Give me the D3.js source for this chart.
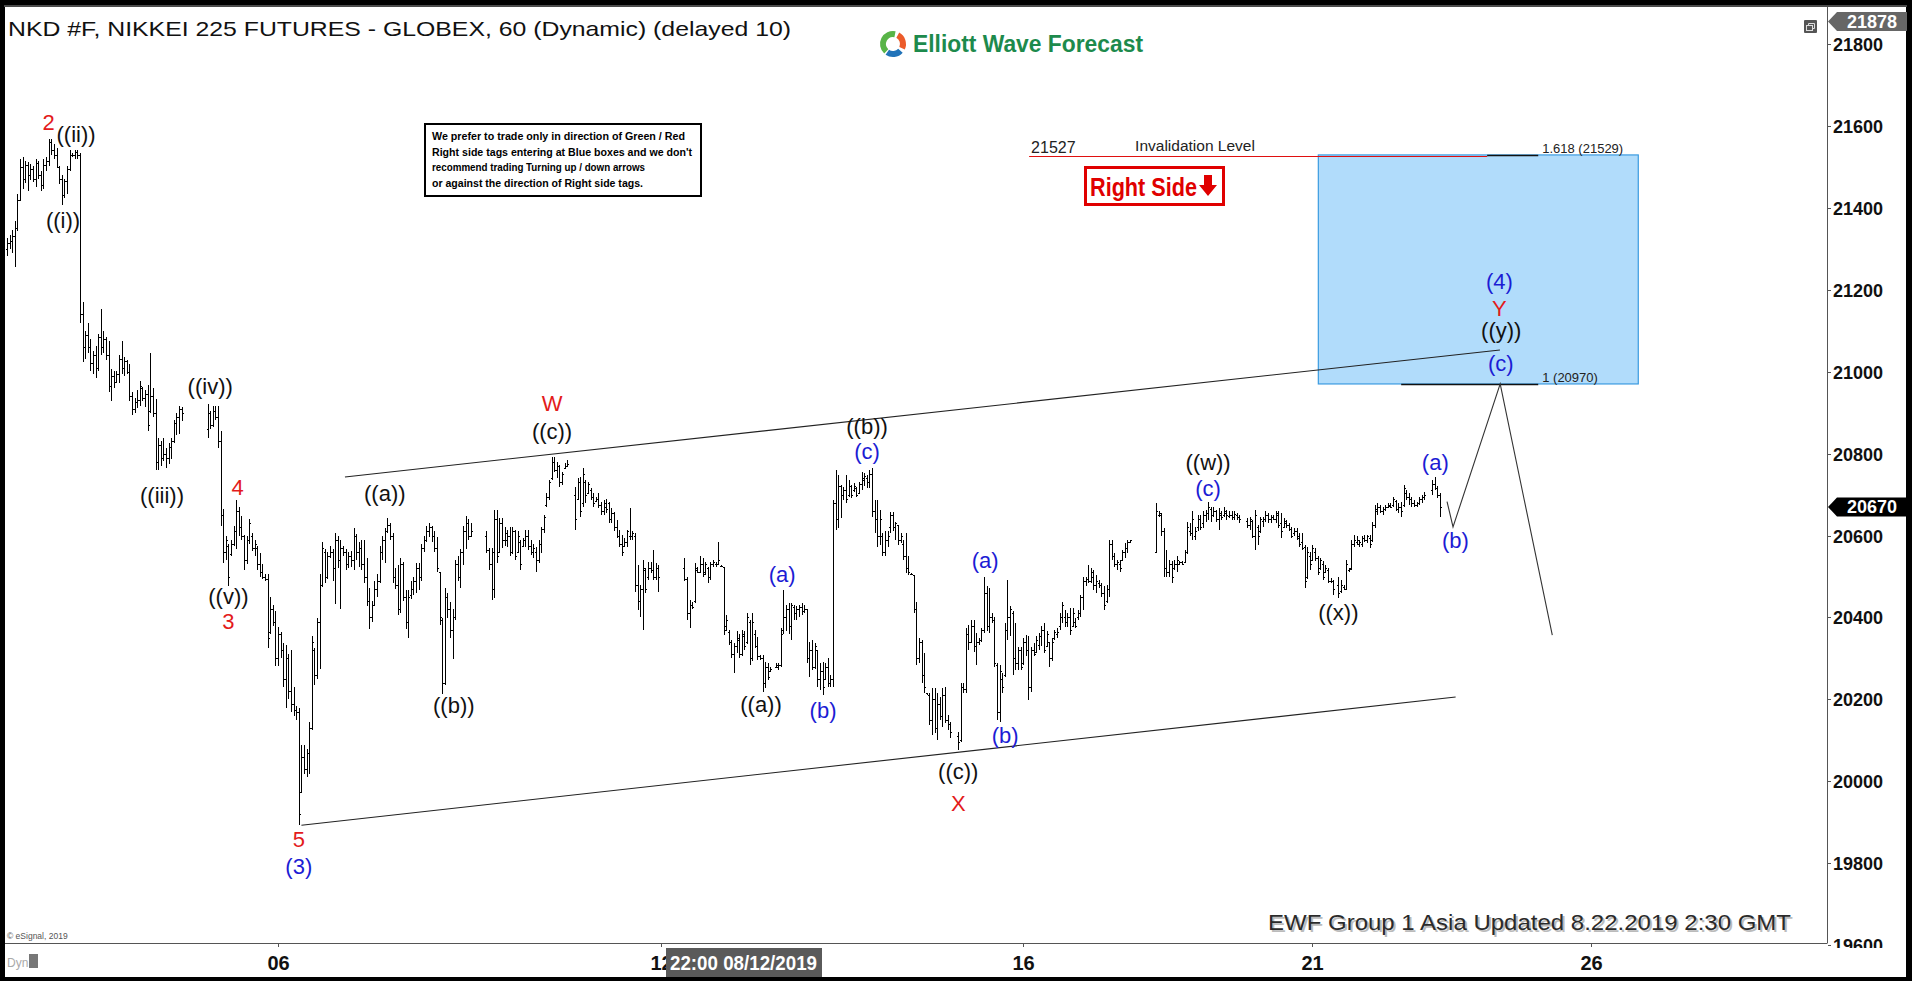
<!DOCTYPE html>
<html><head><meta charset="utf-8">
<script src="https://cdn.jsdelivr.net/npm/d3@7"></script>
<style>
html,body{margin:0;padding:0;background:#000;overflow:hidden}
svg{display:block}
text{font-family:"Liberation Sans",Arial,sans-serif}
</style></head><body><svg id="c" width="1912" height="981"></svg>
<script>
// ---------- DATA ----------
// hourly OHLC bars [open, high, low, close]; null = no bar drawn
const bars = [
[21300,21327,21282,21315],[21315,21333,21300,21320],[21320,21345,21290,21330],[21330,21367,21256,21350],
[21350,21434,21344,21420],[21420,21518,21417,21500],[21500,21524,21445,21470],[21470,21515,21460,21505],
[21505,21513,21440,21480],[21480,21507,21468,21495],[21495,21502,21462,21470],[21470,21518,21451,21510],
[21510,21515,21470,21480],[21480,21490,21440,21455],[21455,21518,21445,21505],[21505,21524,21490,21515],
[21515,21569,21502,21560],[21560,21569,21530,21540],[21540,21555,21520,21530],[21530,21547,21496,21500],
[21500,21502,21457,21470],[21470,21479,21406,21430],[21430,21470,21425,21465],[21465,21502,21434,21495],
[21495,21541,21490,21530],[21530,21535,21524,21530],[21530,21541,21518,21535],[21535,21540,21520,21530],
[21530,21535,21119,21140],[21140,21170,21024,21060],[21060,21100,21030,21090],[21090,21119,21046,21060],
[21060,21080,21001,21020],[21020,21050,20995,21040],[21040,21063,20984,21010],[21010,21091,21001,21085],
[21085,21153,21040,21060],[21060,21100,21045,21080],[21080,21085,21029,21040],[21040,21074,20950,20965],
[20965,21007,20928,20990],[20990,21001,20960,20975],[20975,21001,20973,20995],[20995,21040,20973,21030],
[21030,21074,20995,21010],[21010,21035,20990,21025],[21025,21029,20995,21000],[21000,21018,20928,20940],
[20940,20950,20894,20910],[20910,20935,20900,20925],[20925,20956,20911,20930],[20930,20978,20917,20965],
[20960,20962,20928,20935],[20935,20955,20915,20945],[20945,20967,20855,20870],[20905,21046,20900,20940],
[20940,20960,20890,20900],[20900,20934,20759,20780],[20780,20838,20759,20820],[20820,20830,20770,20790],
[20790,20838,20782,20800],[20800,20815,20765,20790],[20790,20825,20775,20815],[20815,20838,20787,20830],
[20830,20883,20827,20875],[20875,20900,20845,20890],[20890,20917,20849,20910],[20910,20915,20880,20900],
null,null,null,null,null,null,null,null,null,
[20860,20922,20838,20900],[20900,20905,20860,20870],[20870,20917,20865,20905],[20905,20917,20883,20890],
[20890,20917,20815,20830],[20830,20855,20624,20650],[20650,20664,20534,20560],[20560,20600,20540,20590],
[20575,20579,20478,20500],[20555,20590,20551,20580],[20580,20624,20574,20610],[20610,20686,20568,20660],
[20660,20670,20600,20620],[20620,20647,20590,20600],[20600,20602,20517,20540],[20540,20600,20530,20590],
[20590,20641,20579,20630],[20600,20607,20562,20570],[20570,20590,20550,20580],[20570,20574,20517,20530],
[20530,20557,20500,20510],[20510,20530,20495,20500],[20500,20506,20489,20495],[20495,20506,20326,20350],
[20365,20450,20360,20420],[20420,20430,20380,20390],[20390,20416,20281,20300],[20300,20377,20281,20360],
[20360,20365,20300,20320],[20320,20337,20231,20250],[20250,20332,20180,20300],[20300,20310,20200,20220],
[20220,20320,20169,20190],[20190,20230,20160,20175],[20175,20185,20150,20170],[20170,20180,19893,19920],
[19975,20090,19972,20060],[20060,20090,20017,20030],[20030,20080,20010,20070],[20070,20146,20017,20130],
[20130,20354,20125,20340],[20320,20326,20236,20260],[20260,20400,20250,20390],[20390,20506,20275,20480],
[20480,20585,20475,20570],[20560,20568,20484,20500],[20500,20560,20495,20550],[20550,20574,20545,20560],
[20560,20568,20489,20520],[20520,20607,20433,20590],[20590,20600,20520,20540],[20540,20590,20422,20570],
[20570,20574,20551,20560],[20560,20568,20517,20530],[20530,20560,20520,20550],[20550,20562,20523,20540],
[20540,20619,20517,20600],[20600,20605,20540,20560],[20560,20585,20523,20570],[20570,20590,20517,20530],
[20530,20590,20484,20500],[20500,20545,20427,20440],[20440,20472,20371,20400],[20400,20440,20390,20430],
[20430,20489,20427,20470],[20470,20506,20450,20490],[20490,20574,20485,20560],[20560,20600,20540,20590],
[20590,20619,20534,20610],[20610,20644,20607,20625],[20625,20630,20590,20600],[20600,20607,20484,20500],
[20500,20520,20470,20480],[20480,20529,20405,20420],[20420,20545,20410,20530],[20530,20535,20440,20450],
[20450,20467,20371,20390],[20390,20467,20349,20450],[20455,20489,20445,20470],[20470,20500,20455,20490],
[20490,20534,20461,20520],[20520,20534,20467,20500],[20500,20579,20489,20570],[20570,20600,20560,20590],
[20590,20624,20585,20610],[20610,20630,20596,20620],[20620,20624,20585,20600],[20600,20610,20560,20570],
[20570,20596,20512,20520],[20510,20512,20382,20400],[20395,20399,20214,20240],[20240,20472,20235,20450],
[20450,20460,20400,20420],[20420,20438,20349,20370],[20370,20422,20298,20400],[20400,20540,20395,20530],
[20530,20550,20490,20500],[20500,20568,20472,20560],[20560,20624,20529,20610],[20610,20647,20568,20630],
[20630,20640,20590,20600],[20600,20630,20596,20610],
null,null,null,null,null,
[20600,20610,20557,20565],[20565,20569,20516,20530],[20530,20569,20443,20560],[20470,20662,20447,20640],
[20640,20662,20532,20550],[20560,20642,20557,20630],[20630,20642,20569,20590],[20590,20620,20575,20605],
[20590,20614,20573,20600],
[20600,20622,20549,20560],[20560,20622,20555,20610],[20610,20614,20540,20550],[20560,20610,20557,20600],
[20585,20589,20516,20530],[20575,20593,20573,20590],[20590,20614,20573,20600],[20600,20614,20565,20575],
[20575,20589,20553,20560],[20560,20580,20545,20570],[20560,20573,20512,20540],[20540,20589,20532,20580],[20580,20622,20557,20615],
[20615,20650,20606,20645],[20675,20703,20671,20695],[20695,20736,20687,20730],[20740,20793,20736,20780],
[20780,20793,20756,20760],[20760,20780,20740,20770],[20770,20772,20719,20730],[20730,20756,20724,20750],
[20765,20776,20764,20770],[20770,20785,20768,20775],
null,null,
[20700,20719,20614,20640],[20690,20740,20687,20730],[20730,20744,20646,20660],[20680,20764,20671,20750],
[20730,20736,20679,20700],[20705,20732,20703,20725],[20710,20715,20687,20695],[20695,20703,20671,20680],
[20685,20695,20683,20690],[20690,20703,20667,20675],[20675,20683,20650,20660],[20660,20687,20650,20680],
[20670,20690,20655,20665],
[20680,20683,20630,20640],[20640,20667,20630,20655],[20655,20658,20610,20620],[20620,20638,20593,20600],
[20600,20614,20573,20580],[20580,20601,20549,20560],[20575,20593,20573,20585],[20585,20614,20573,20610],
[20600,20667,20589,20600],[20600,20610,20589,20605],[20600,20606,20463,20480],[20480,20528,20418,20440],
[20440,20479,20402,20470],[20470,20540,20370,20520],[20515,20520,20459,20470],[20500,20536,20492,20520],
[20520,20536,20508,20515],[20515,20565,20492,20500],[20500,20532,20492,20520],[20520,20528,20463,20500],
null,null,null,null,null,null,null,null,null,
[20520,20545,20488,20495],[20495,20500,20394,20410],[20410,20443,20374,20430],[20430,20439,20422,20425],
[20440,20532,20435,20520],[20515,20524,20508,20510],[20510,20549,20508,20530],[20530,20545,20500,20505],
[20510,20536,20505,20530],[20520,20524,20484,20500],[20500,20536,20492,20530],[20530,20540,20524,20535],
[20530,20536,20524,20530],[20530,20585,20528,20540],[20525,20528,20524,20526],[20524,20524,20357,20370],
[20380,20406,20366,20395],[20365,20370,20333,20340],[20340,20345,20300,20310],[20310,20337,20264,20330],
[20330,20366,20313,20350],[20345,20361,20300,20310],[20310,20370,20305,20360],[20355,20366,20321,20330],
[20340,20410,20335,20400],[20390,20394,20284,20300],[20300,20410,20295,20390],[20360,20370,20325,20330],
[20330,20353,20296,20305],[20305,20309,20296,20300],[20300,20309,20219,20240],[20240,20292,20227,20280],
[20280,20288,20247,20255],[20270,20280,20268,20275],
null,
[20280,20288,20276,20285],[20280,20288,20272,20285],[20285,20374,20280,20360],[20370,20467,20361,20400],
[20400,20431,20366,20420],[20420,20435,20361,20380],[20380,20435,20345,20430],[20425,20431,20394,20410],
[20410,20427,20394,20420],[20420,20431,20402,20425],[20425,20435,20406,20415],[20415,20431,20410,20420],
[20420,20422,20288,20300],[20300,20341,20256,20320],[20320,20345,20272,20280],[20280,20337,20275,20330],
[20320,20321,20231,20250],[20250,20288,20223,20270],[20270,20292,20211,20230],[20250,20288,20247,20280],
[20280,20300,20231,20240],[20240,20260,20231,20250],[20250,20687,20231,20680],[20680,20760,20614,20640],
[20640,20748,20618,20720],[20720,20723,20642,20700],[20700,20719,20687,20710],[20710,20748,20679,20690],
[20700,20736,20695,20720],[20720,20723,20691,20700],[20710,20728,20707,20720],[20715,20719,20695,20700],
[20705,20732,20703,20725],[20725,20756,20711,20740],[20735,20752,20720,20745],[20740,20748,20715,20730],[20730,20760,20715,20750],
[20750,20764,20646,20660],[20660,20687,20606,20640],[20640,20687,20573,20600],[20600,20662,20577,20640],
[20600,20606,20549,20560],[20560,20610,20549,20590],[20590,20610,20573,20600],[20620,20658,20606,20650],
[20650,20658,20610,20620],[20620,20634,20589,20630],[20625,20626,20577,20590],[20590,20606,20581,20600],
[20580,20589,20540,20550],[20550,20606,20508,20520],[20520,20549,20504,20510],[20505,20508,20504,20506],
[20504,20504,20410,20420],[20420,20439,20284,20300],[20300,20349,20288,20340],[20340,20345,20239,20260],
[20260,20313,20215,20230],[20215,20215,20211,20212],[20212,20215,20138,20150],[20150,20227,20113,20200],
[20200,20227,20117,20130],[20130,20215,20101,20190],[20190,20207,20150,20160],[20160,20227,20134,20210],
[20210,20231,20142,20150],[20150,20162,20126,20140],[20140,20146,20105,20120],
null,null,
[20110,20121,20077,20095],[20100,20239,20095,20230],[20230,20239,20215,20225],
[20225,20374,20215,20360],[20360,20382,20321,20340],[20340,20394,20337,20380],[20380,20394,20317,20330],
[20330,20362,20284,20340],[20340,20349,20333,20345],[20345,20374,20341,20370],[20370,20500,20362,20460],
[20460,20476,20366,20380],[20380,20471,20362,20400],[20400,20410,20386,20395],[20395,20402,20280,20290],
[20285,20288,20150,20170],[20170,20284,20146,20270],[20250,20264,20215,20230],[20260,20386,20256,20370],
[20370,20492,20345,20400],[20400,20427,20354,20420],[20410,20415,20260,20300],[20300,20386,20272,20290],
[20290,20329,20272,20320],[20320,20329,20272,20280],[20290,20349,20284,20340],[20340,20358,20305,20320],
[20320,20354,20199,20230],[20230,20329,20219,20320],[20320,20337,20305,20310],[20315,20354,20313,20345],
[20333,20362,20321,20355],[20355,20380,20330,20370],[20370,20386,20313,20320],
[20330,20366,20329,20360],[20340,20341,20280,20300],[20300,20349,20295,20340],[20350,20370,20345,20365],
[20360,20374,20349,20365],[20380,20410,20370,20400],[20400,20439,20386,20430],[20400,20419,20378,20390],
[20390,20410,20378,20400],[20400,20423,20358,20370],[20380,20423,20378,20410],[20390,20398,20374,20380],
[20400,20419,20394,20410],[20410,20455,20402,20450],[20450,20500,20419,20490],[20490,20500,20476,20495],
[20495,20528,20484,20490],[20490,20520,20484,20510],[20500,20516,20467,20480],[20480,20504,20459,20490],
[20485,20492,20471,20480],[20480,20484,20451,20460],[20460,20476,20419,20430],[20440,20480,20435,20470],
[20470,20589,20451,20580],[20580,20589,20541,20550],[20550,20557,20524,20530],[20530,20541,20516,20535],
[20530,20541,20512,20520],[20540,20565,20537,20560],[20560,20581,20545,20570],
[20570,20589,20557,20585],[20585,20589,20585,20588],
null,null,null,null,null,null,null,null,null,
[20560,20679,20557,20660],[20650,20659,20646,20655],[20650,20655,20598,20610],[20610,20618,20500,20520],
[20520,20565,20500,20510],[20510,20541,20500,20530],[20530,20537,20484,20500],[20520,20541,20516,20530],
[20530,20549,20512,20540],[20530,20537,20528,20535],[20535,20537,20528,20530],[20535,20565,20533,20560],
[20560,20634,20555,20620],[20610,20630,20598,20605],[20605,20659,20589,20640],[20600,20622,20589,20610],
[20620,20650,20610,20640],[20640,20650,20614,20620],[20630,20659,20618,20650],[20650,20663,20634,20655],
[20655,20683,20638,20670],[20665,20671,20634,20650],[20650,20671,20646,20660],[20660,20663,20634,20640],
[20640,20667,20614,20655],[20650,20659,20638,20645],[20650,20671,20646,20660],[20655,20663,20638,20650],
[20648,20659,20642,20650],[20650,20659,20638,20645],[20645,20659,20638,20652],
[20650,20655,20638,20645],[20645,20650,20630,20640],
null,null,
[20635,20642,20618,20625],[20625,20646,20614,20640],[20635,20638,20594,20600],[20600,20663,20565,20650],
[20620,20626,20577,20600],[20610,20646,20606,20640],[20635,20646,20622,20640],[20640,20659,20634,20650],
[20650,20655,20630,20640],[20640,20650,20630,20645],[20645,20650,20638,20640],[20640,20659,20630,20655],
[20650,20659,20618,20625],[20630,20655,20594,20610],[20620,20642,20618,20635],[20630,20638,20618,20625],
[20625,20630,20610,20615],[20615,20622,20594,20600],[20605,20618,20598,20610],[20610,20618,20589,20595],
[20600,20606,20573,20580],[20585,20606,20565,20570],[20572,20577,20471,20490],
[20500,20573,20495,20560],[20550,20561,20516,20530],[20540,20577,20537,20570],[20560,20569,20537,20545],
[20545,20549,20504,20510],[20520,20545,20516,20540],[20530,20537,20492,20500],[20510,20528,20508,20520],
[20515,20520,20484,20490],[20490,20496,20484,20488],[20488,20492,20455,20470],
null,
[20480,20500,20447,20460],[20465,20492,20459,20480],[20475,20480,20467,20470],[20470,20541,20467,20530],
[20515,20520,20512,20518],[20520,20589,20516,20580],[20580,20602,20573,20590],[20585,20598,20577,20590],
[20580,20589,20573,20585],[20580,20598,20573,20595],[20595,20602,20585,20590],
[20590,20602,20581,20598],[20595,20602,20569,20580],[20590,20634,20585,20625],[20625,20675,20618,20665],
[20660,20679,20650,20670],[20670,20675,20655,20660],[20660,20671,20650,20665],[20665,20675,20659,20670],
[20670,20679,20667,20675],[20672,20679,20667,20670],[20675,20695,20671,20690],[20685,20687,20659,20665],
[20665,20679,20655,20670],[20670,20683,20646,20660],[20675,20724,20671,20715],[20705,20711,20687,20695],
[20695,20703,20675,20690],[20690,20695,20671,20680],[20680,20687,20671,20675],[20675,20683,20671,20680],
[20680,20695,20675,20690],[20690,20699,20679,20695],[20695,20707,20687,20700],
null,null,
[20710,20736,20699,20725],[20725,20744,20711,20715],[20715,20720,20691,20700],[20700,20703,20646,20670]
];

const yTicks = [19600,19800,20000,20200,20400,20600,20800,21000,21200,21400,21600,21800];
const xTickSlots = [104, 251, 390, 501, 608];
const xTickLabels = ["06", "12", "16", "21", "26"];

// wave labels: [text, slot, price, colour]
const waveLabels = [
["2",16,21609,"red"],["((ii))",26.5,21580,"black"],["((i))",21.5,21368,"black"],
["((iii))",59.5,20697,"black"],["((iv))",78,20963,"black"],["4",88.5,20718,"red"],
["((v))",85,20452,"black"],["3",85,20391,"red"],["5",112,19857,"red"],["(3)",112,19791,"blue"],
["((a))",145,20702,"black"],["((b))",171.5,20184,"black"],["W",209.2,20922,"red"],["((c))",209.2,20853,"black"],
["((a))",289.4,20187,"black"],["(a)",297.5,20506,"blue"],["(b)",313.2,20172,"blue"],
["((b))",330.1,20865,"black"],["(c)",330.1,20804,"blue"],["((c))",365.1,20025,"black"],["X",365.1,19945,"red"],
["(a)",375.4,20540,"blue"],["(b)",383.1,20113,"blue"],["((w))",461,20779,"black"],["(c)",461,20716,"blue"],
["((x))",511,20411,"black"],["(a)",548.2,20779,"blue"],["(b)",555.9,20589,"blue"],
["(4)",572.8,21219,"blue"],["Y",572.8,21153,"red"],["((y))",573.5,21101,"black"],["(c)",573.3,21021,"blue"]
];

const channelUpper = [[129.7,20743],[573,21053]];
const channelLower = [[113,19893],[556,20206]];
const projection = [[552.7,20683],[555.0,20621],[573.1,20970],[593.1,20357]];
const blueBox = {slots:[503.3,626.1], prices:[21529,20970]};
const invalidation = {price:21527, slots:[392.3,568.1], label:"21527", text:"Invalidation Level"};
const fibLevels = [[21529,568.1,587.7,"1.618 (21529)"],[20970,535.1,587.7,"1 (20970)"]];
const lastPrice = 20670, topPrice = 21878;
const noteLines = ["We prefer to trade only in direction of Green / Red","Right side tags entering at Blue boxes and we don't","recommend trading Turning up / down arrows","or against the direction of Right side tags."];
const noteWidths = [253,260,213,211];

// ---------- DRAW ----------
const W = 1912, H = 981;
const svg = d3.select('#c');
const colors = {red:'#e31b1b', blue:'#1c1cd4', black:'#111'};

svg.append('rect').attr('width',W).attr('height',H).attr('fill','#000');
svg.append('rect').attr('x',4).attr('y',5).attr('width',1903).attr('height',2).attr('fill','#4a4a4a');
svg.append('rect').attr('x',5).attr('y',7).attr('width',1901).attr('height',970).attr('fill','#fff');

const plotL = 5, plotR = 1827, plotT = 7, plotB = 943;
const x = d3.scaleLinear().domain([0, bars.length-1]).range([7, 1440]);
const y = d3.scaleLinear().domain([19800, 21800]).range([863.3, 43.9]);

const defs = svg.append('defs');
defs.append('clipPath').attr('id','plotclip').append('rect')
  .attr('x',plotL).attr('y',plotT).attr('width',plotR-plotL).attr('height',plotB-plotT);
const plot = svg.append('g').attr('clip-path','url(#plotclip)');

// blue box
plot.append('rect')
  .attr('x', x(blueBox.slots[0])).attr('y', y(blueBox.prices[0]))
  .attr('width', x(blueBox.slots[1]) - x(blueBox.slots[0]))
  .attr('height', y(blueBox.prices[1]) - y(blueBox.prices[0]))
  .attr('fill','#b1dcfb').attr('stroke','#3b9be0').attr('stroke-width',1.2);

// invalidation line
plot.append('line').attr('x1',x(invalidation.slots[0])).attr('x2',x(invalidation.slots[1]))
  .attr('y1',Math.round(y(invalidation.price))+0.5).attr('y2',Math.round(y(invalidation.price))+0.5)
  .attr('stroke','#e01010').attr('stroke-width',1);
plot.append('text').attr('x',x(invalidation.slots[0])+2).attr('y',y(invalidation.price)-3)
  .style('font-family','"Liberation Sans Narrow","Liberation Sans",Arial').attr('font-size',16).attr('fill','#222')
  .text(invalidation.label);
plot.append('text').attr('x',x(invalidation.slots[0])+106).attr('y',y(invalidation.price)-5)
  .style('font-family','"Liberation Sans Narrow","Liberation Sans",Arial').attr('font-size',15.5).attr('fill','#222')
  .text(invalidation.text);

// fib levels
fibLevels.forEach(f => {
  const yy = Math.round(y(f[0]))+0.5;
  plot.append('line').attr('x1',x(f[1])).attr('x2',x(f[2])).attr('y1',yy).attr('y2',yy)
    .attr('stroke','#111').attr('stroke-width',1.3);
  plot.append('text').attr('x',x(f[2])+4).attr('y',yy-3)
    .style('font-family','"Liberation Sans Narrow","Liberation Sans",Arial').attr('font-size',13).attr('fill','#222')
    .text(f[3]);
});

// channel lines
const ln = d3.line().x(d=>x(d[0])).y(d=>y(d[1]));
[channelUpper, channelLower].forEach(c => {
  plot.append('path').attr('d', ln(c)).attr('fill','none').attr('stroke','#222').attr('stroke-width',1.1);
});
plot.append('path').attr('d', ln(projection)).attr('fill','none').attr('stroke','#333').attr('stroke-width',1.1);

// bars
const barPath = [];
bars.forEach((b,i) => {
  if (!b) return;
  const xx = Math.round(x(i)) + 0.5;
  const [o,h,l,c] = b;
  barPath.push(`M${xx},${y(h).toFixed(1)}V${y(l).toFixed(1)}M${xx-1.5},${Math.round(y(o))+0.5}H${xx}M${xx},${Math.round(y(c))+0.5}H${xx+1.5}`);
});
plot.append('path').attr('d', barPath.join('')).attr('fill','none').attr('stroke','#000').attr('stroke-width',1)
  .attr('shape-rendering','crispEdges');

// wave labels
waveLabels.forEach(w => {
  plot.append('text').attr('x', x(w[1])).attr('y', y(w[2]))
    .attr('text-anchor','middle').attr('dominant-baseline','central')
    .attr('font-size',22).attr('fill',colors[w[3]]).text(w[0]);
});

// note box
const nb = plot.append('g');
nb.append('rect').attr('x',425).attr('y',124).attr('width',276).attr('height',72)
  .attr('fill','#fff').attr('stroke','#000').attr('stroke-width',2);
noteLines.forEach((t,i) => {
  nb.append('text').attr('x',432).attr('y',140+i*15.5).attr('font-size',11.5).attr('font-weight','bold')
    .attr('fill','#000').attr('textLength',noteWidths[i]).attr('lengthAdjust','spacingAndGlyphs').text(t);
});

// Right Side tag
const rs = plot.append('g');
rs.append('rect').attr('x',1085.5).attr('y',167.5).attr('width',138).attr('height',37)
  .attr('fill','#fff').attr('stroke','#e00000').attr('stroke-width',3);
rs.append('text').attr('x',1090).attr('y',196)
  .style('font-family','"Liberation Sans Narrow","Liberation Sans",Arial').attr('font-weight','bold')
  .attr('font-size',26).attr('fill','#e00000').attr('textLength',107).attr('lengthAdjust','spacingAndGlyphs').text('Right Side');
rs.append('path').attr('d','M1204,175H1212V185H1217L1208,196L1199,185H1204Z').attr('fill','#e00000');

// title
svg.append('text').attr('x',8).attr('y',36).attr('font-size',21).attr('fill','#111')
  .attr('textLength',783).attr('lengthAdjust','spacingAndGlyphs')
  .text('NKD #F, NIKKEI 225 FUTURES - GLOBEX, 60 (Dynamic) (delayed 10)');

// logo
const lg = svg.append('g').attr('transform','translate(893,44)');
const arc = d3.arc().innerRadius(7).outerRadius(13);
lg.append('path').attr('d',arc({startAngle:-2.4,endAngle:0.2})).attr('fill','#58b447');
lg.append('path').attr('d',arc({startAngle:0.5,endAngle:2.0})).attr('fill','#ec5b2a');
lg.append('path').attr('d',arc({startAngle:2.3,endAngle:3.75})).attr('fill','#2173b9');
svg.append('text').attr('x',913).attr('y',52).attr('font-size',23).attr('font-weight','bold')
  .attr('fill','#1d8a4c').attr('textLength',230).attr('lengthAdjust','spacingAndGlyphs').text('Elliott Wave Forecast');

// EWF footer text
svg.append('text').attr('x',1270).attr('y',932).attr('font-size',22).attr('fill','#bbb')
  .attr('textLength',523).attr('lengthAdjust','spacingAndGlyphs')
  .text('EWF Group 1 Asia  Updated 8.22.2019 2:30 GMT');
svg.append('text').attr('x',1268).attr('y',930).attr('font-size',22).attr('fill','#2a2a2a')
  .attr('textLength',523).attr('lengthAdjust','spacingAndGlyphs')
  .text('EWF Group 1 Asia  Updated 8.22.2019 2:30 GMT');

svg.append('text').attr('x',7).attr('y',943-4).attr('font-size',8.5).attr('fill','#555').text('© eSignal, 2019');

// axes lines
svg.append('line').attr('x1',1827.5).attr('x2',1827.5).attr('y1',7).attr('y2',plotB).attr('stroke','#555');
svg.append('line').attr('x1',plotL).attr('x2',1827.5).attr('y1',plotB+0.5).attr('y2',plotB+0.5).attr('stroke','#555');

// y axis
defs.append('clipPath').attr('id','yclip').append('rect').attr('x',1828).attr('y',7).attr('width',80).attr('height',941);
const yg = svg.append('g').attr('clip-path','url(#yclip)');
yTicks.forEach(t => {
  const yy = Math.round(y(t))+0.5;
  yg.append('line').attr('x1',1828).attr('x2',1831).attr('y1',yy).attr('y2',yy).attr('stroke','#555');
  yg.append('text').attr('x',1833).attr('y',yy).attr('dominant-baseline','central')
    .attr('font-size',18).attr('font-weight','bold').attr('fill','#111').text(t);
});

// price tags
function tag(cy, label, fill){
  svg.append('path').attr('d',`M1828,${cy}L1837,${cy-9.5}H1907V${cy+9.5}H1837Z`).attr('fill',fill);
  svg.append('text').attr('x',1872).attr('y',cy).attr('text-anchor','middle').attr('dominant-baseline','central')
    .attr('font-size',18).attr('font-weight','bold').attr('fill','#fff').text(label);
}
tag(21.5, topPrice, '#666');
tag(Math.round(y(lastPrice)), lastPrice, '#000');

// window icon top right
svg.append('rect').attr('x',1804).attr('y',20).attr('width',13).attr('height',13).attr('fill','#555').attr('rx',1);
svg.append('rect').attr('x',1806.5).attr('y',25.5).attr('width',6).attr('height',5).attr('fill','none').attr('stroke','#ddd');
svg.append('path').attr('d','M1808.5,25.5V23.5H1814.5V28.5H1812.5').attr('fill','none').attr('stroke','#ddd');

// x axis
xTickSlots.forEach((s,i) => {
  const xx = Math.round(x(s))+0.5;
  svg.append('line').attr('x1',xx).attr('x2',xx).attr('y1',plotB).attr('y2',plotB+4).attr('stroke','#555');
  svg.append('text').attr('x',xx).attr('y',963).attr('text-anchor','middle').attr('dominant-baseline','central')
    .style('font-family','"Liberation Sans Narrow","Liberation Sans",Arial')
    .attr('font-size',20).attr('font-weight','bold').attr('fill','#111').text(xTickLabels[i]);
});
// crosshair date box
const bx = Math.round(x(xTickSlots[1])) + 5;
svg.append('rect').attr('x',bx).attr('y',948).attr('width',156).attr('height',29).attr('fill','#5a5a5a');
svg.append('text').attr('x',bx+4).attr('y',963).attr('dominant-baseline','central')
  .style('font-family','"Liberation Sans Narrow","Liberation Sans",Arial')
  .attr('font-size',20).attr('font-weight','bold').attr('fill','#fff').attr('textLength',147).attr('lengthAdjust','spacingAndGlyphs')
  .text('22:00 08/12/2019');

// Dyn + lock
svg.append('text').attr('x',7).attr('y',963).attr('dominant-baseline','central').attr('font-size',12).attr('fill','#aaa').text('Dyn');
svg.append('rect').attr('x',29).attr('y',954).attr('width',9).attr('height',14).attr('fill','#777');
</script></body></html>
